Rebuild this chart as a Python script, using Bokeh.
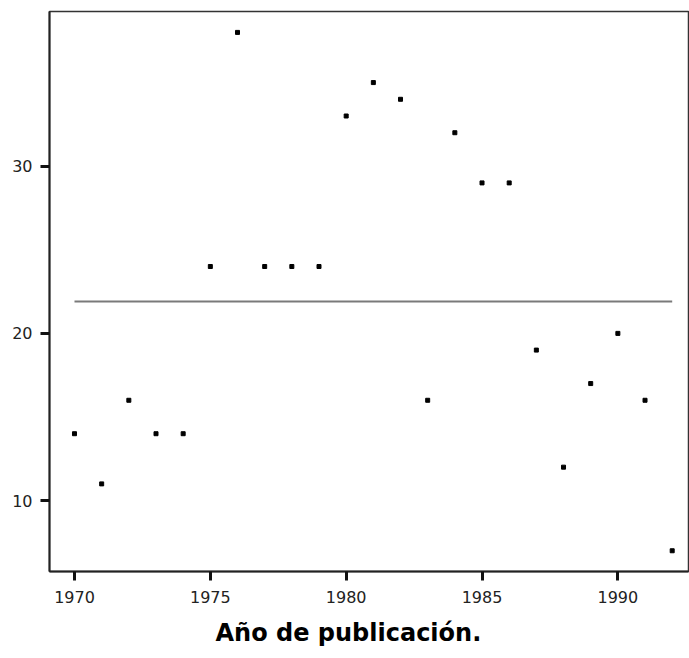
from bokeh.plotting import figure
from bokeh.models import Range1d, FixedTicker, Title
from bokeh.embed import file_html
from bokeh.resources import INLINE

years = [1970, 1971, 1972, 1973, 1974, 1975, 1976, 1977, 1978, 1979, 1980, 1981,
         1982, 1983, 1984, 1985, 1986, 1987, 1988, 1989, 1990, 1991, 1992]
values = [14, 11, 16, 14, 14, 24, 38, 24, 24, 24, 33, 35,
          34, 16, 32, 29, 29, 19, 12, 17, 20, 16, 7]
mean_value = 21.9
mean_span = [1970, 1992]
x_ticks = [1970, 1975, 1980, 1985, 1990]
y_ticks = [10, 20, 30]
x_title = "Año de publicación."

p = figure(width=689, height=658, output_backend="svg", toolbar_location=None,
           x_range=Range1d(1969.08, 1992.6), y_range=Range1d(5.76, 39.25),
           min_border_left=49, min_border_right=1, min_border_top=11, min_border_bottom=87)

p.background_fill_color = "white"
p.border_fill_color = "white"
p.outline_line_color = "#333333"
p.outline_line_width = 1.5
p.grid.visible = False

p.line(mean_span, [mean_value, mean_value], line_color="#7a7a7a", line_width=2)
p.scatter(years, values, marker="square", size=4, fill_color="black", line_color="black")

for ax in (p.xaxis[0], p.yaxis[0]):
    ax.axis_line_color = "#222222"
    ax.axis_line_width = 2
    ax.major_tick_line_width = 3
    ax.major_tick_line_color = "#111111"
    ax.major_tick_out = 9
    ax.major_tick_in = 0
    ax.minor_tick_line_color = None
    ax.major_label_text_font = "DejaVu Sans"
    ax.major_label_text_font_size = "16px"
    ax.major_label_text_color = "#222222"

p.xaxis.ticker = FixedTicker(ticks=x_ticks)
p.yaxis.ticker = FixedTicker(ticks=y_ticks)
p.xaxis.major_label_standoff = 10
p.yaxis.major_label_standoff = 8

title = Title(text=x_title, align="left", offset=166, standoff=22,
              text_font="DejaVu Sans", text_font_style="bold", text_font_size="24px",
              text_color="black")
p.add_layout(title, "below")

open("out.html", "w").write(file_html(p, INLINE))
